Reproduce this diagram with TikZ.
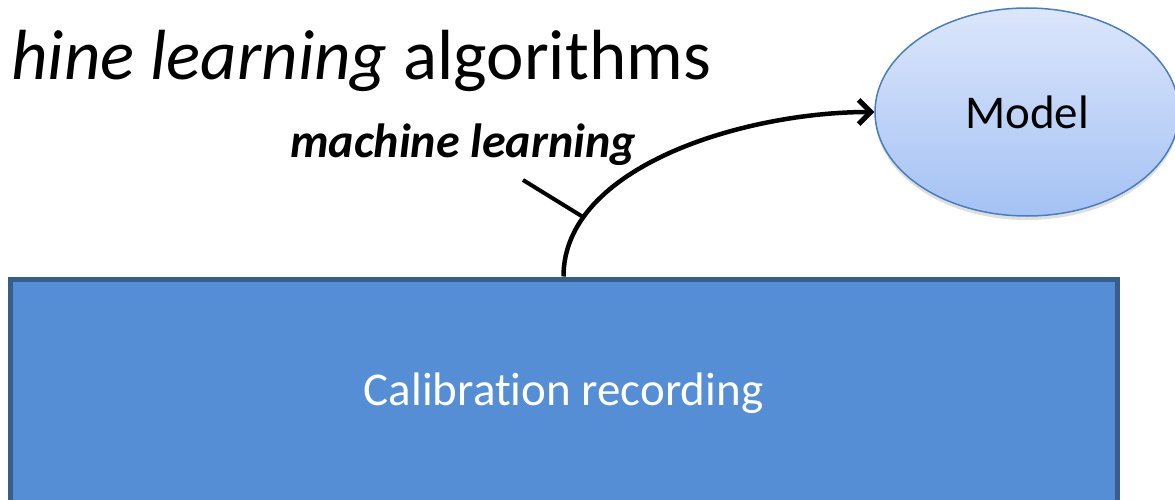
\documentclass[tikz,border=0pt]{standalone}
\usepackage{fontspec}
\setmainfont{Carlito}[Ligatures=NoCommon]
\usetikzlibrary{shapes.geometric}
\usetikzlibrary{arrows.meta,shadows}

\definecolor{recfill}{RGB}{85,142,213}
\definecolor{recline}{RGB}{56,93,138}
\definecolor{modtop}{RGB}{220,230,251}
\definecolor{modbot}{RGB}{164,194,244}
\definecolor{modline}{RGB}{74,126,187}

\begin{document}
\begin{tikzpicture}[x=1pt,y=-1pt]
\useasboundingbox (0,0) rectangle (1175,500);
\clip (0,0) rectangle (1175,500);
\begin{scope}[every node/.style={inner sep=0pt}]

% Nodes
\node[anchor=base east,font=\fontsize{71}{80}\selectfont] at (711,80) (title) {\textit{hine learning} algorithms};
\node[rectangle,draw=recline,line width=5pt,fill=recfill,text=white,minimum width=1107pt,minimum height=228pt,font=\fontsize{47}{56}\selectfont] at (563.5,393) (calib) {Calibration recording};
\node[ellipse,draw=modline,line width=1.5pt,top color=modtop,bottom color=modbot,drop shadow={opacity=0.25,shadow xshift=0pt,shadow yshift=-4pt},minimum width=304pt,minimum height=208pt,font=\fontsize{47}{56}\selectfont] at (1027,112) (model) {Model};
\node[font=\fontsize{48}{54}\selectfont\bfseries\itshape] at (463,145) (mllabel) {machine learning};
\coordinate (mltail) at (523,180);

% Arrows
\draw[line width=4.5pt,-{Straight Barb[length=12pt,width=24pt,line width=5pt]}] (calib.north) .. controls +(0,-110) and +(-130,0) .. (model.west) coordinate[pos=0.2] (mlpin);
\draw[line width=4pt] (mltail) -- (mlpin);

\end{scope}
\end{tikzpicture}
\end{document}
